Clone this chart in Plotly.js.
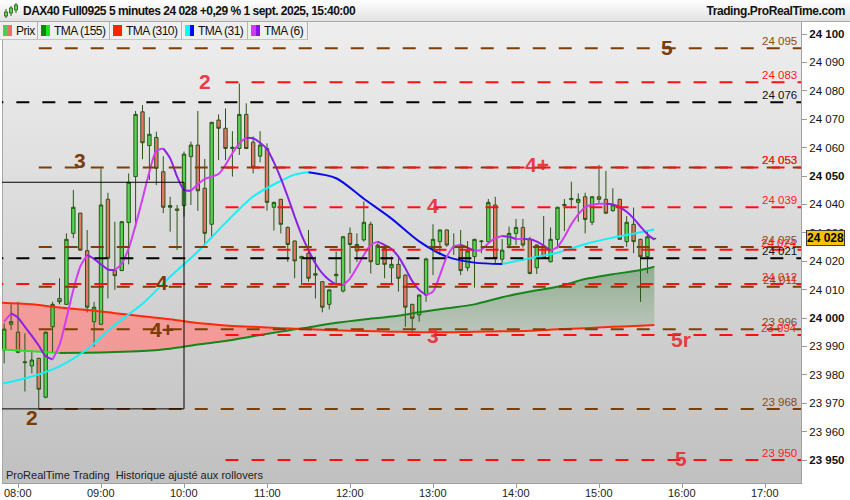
<!DOCTYPE html>
<html lang="fr"><head><meta charset="utf-8">
<script src="https://cdn.plot.ly/plotly-3.0.1.min.js"></script>
<style>
html,body{margin:0;padding:0;background:#fff}
body{width:850px;height:500px;position:relative;overflow:hidden;font-family:"Liberation Sans",Arial,sans-serif}
#bg{position:absolute;left:2px;top:22px;width:799px;height:461px;background:linear-gradient(to bottom,#eeeeee 0%,#c0c0c0 100%);border-left:1px solid #a8a8a8;box-sizing:border-box;z-index:0}
#chart{position:absolute;left:0;top:0;width:850px;height:500px;z-index:1}
#titlebar{position:absolute;left:0;top:0;width:850px;height:21px;background:linear-gradient(#ffffff,#e2e2e2);border-bottom:1px solid #a8a8a8;z-index:3}
#ticon{position:absolute;left:3px;top:3px}
#title{position:absolute;left:23px;top:4px;font-weight:bold;font-size:12px;letter-spacing:-0.5px;color:#111;white-space:nowrap}
#site{position:absolute;right:5px;top:4px;font-weight:bold;font-size:12px;letter-spacing:-0.4px;color:#111;white-space:nowrap}
#legend{position:absolute;left:0;top:22px;height:18px;display:flex;z-index:3}
.item{box-sizing:border-box;height:18px;display:flex;align-items:center;padding:0 0 0 3px;background:#efefef;border-right:1px solid #b4b4b4;border-bottom:1px solid #c4c4c4;font-size:12px;letter-spacing:-0.5px;color:#111;white-space:nowrap}
.ico{width:9px;height:11px;margin-right:4px;display:flex;flex:none}
.ico span{flex:1}
</style></head>
<body>
<div id="bg"></div>
<div id="chart"></div>
<div id="titlebar">
  <svg id="ticon" width="16" height="16" viewBox="0 0 16 16">
    <line x1="3" y1="6" x2="3" y2="15" stroke="#2f5a17"/><rect x="1.5" y="9" width="3" height="4" fill="#55d455" stroke="#2f5a17" stroke-width="0.8"/>
    <line x1="8" y1="3" x2="8" y2="13" stroke="#2f5a17"/><rect x="6.5" y="5" width="3" height="5" fill="#55d455" stroke="#2f5a17" stroke-width="0.8"/>
    <line x1="13" y1="0" x2="13" y2="10" stroke="#2f5a17"/><rect x="11.5" y="2" width="3" height="5" fill="#55d455" stroke="#2f5a17" stroke-width="0.8"/>
  </svg>
  <div id="title">DAX40 Full0925 5 minutes 24 028 +0,29 % 1 sept. 2025, 15:40:00</div>
  <div id="site">Trading.ProRealTime.com</div>
</div>
<div id="legend">
  <div class="item" style="width:38px"><div class="ico"><span style="background:#4ccf4c"></span><span style="background:#e2736b"></span></div>Prix</div>
  <div class="item" style="width:72px"><div class="ico"><span style="background:#0a8a0a"></span><span style="background:#22e022"></span></div>TMA (155)</div>
  <div class="item" style="width:72px"><div class="ico"><span style="background:#ff2200"></span><span style="background:#ff2200"></span></div>TMA (310)</div>
  <div class="item" style="width:66px"><div class="ico"><span style="background:#00ffff"></span><span style="background:#0000ff"></span></div>TMA (31)</div>
  <div class="item" style="width:60px"><div class="ico"><span style="background:#d23cf5"></span><span style="background:#8a10f0"></span></div>TMA (6)</div>
</div>
<script>
// ---------- DATA ----------
// 5-minute candles starting 07:50 (last one 15:40)
const candleFirstMinute = 470; // 07:50
const openP  = [23988.7,23997.8,23995.0,23984.6,23983.1,23985.8,23972.1,23996.9,24006.9,24004.8,
                24029.8,24036.9,24023.7,23998.7,23997.8,24041.8,24016.7,24016.7,24033.6,24049.8,
                24072.6,24060.7,24063.6,24051.5,24039.6,24038.4,24039.6,24056.8,24060.9,24045.7,
                24033.0,24069.7,24066.8,24059.7,24059.7,24071.7,24061.9,24057.0,24059.7,24039.0,
                24041.8,24031.9,24027.1,24021.0,24022.8,24015.6,24012.8,24004.8,24014.9,24009.5,
                24029.8,24023.6,24027.5,24033.0,24018.9,24024.5,24017.7,24018.9,24015.1,24004.8,
                24001.1,24008.1,24024.3,24026.9,24031.0,24024.8,24025.1,24017.7,24021.6,24026.9,
                24026.9,24039.8,24020.7,24025.7,24029.8,24031.9,24027.7,24017.7,24024.8,24019.8,
                24027.7,24039.6,24041.7,24040.7,24042.7,24033.7,24042.7,24041.8,24037.8,24041.8,
                24026.9,24033.0,24027.7,24021.6,24027.9];
const highP  = [23998.1,24004.8,24005.7,23994.6,23988.7,23986.0,23995.2,24005.7,24014.0,24029.8,
                24045.1,24037.1,24031.0,24005.7,24052.7,24044.1,24033.9,24034.2,24050.9,24072.9,
                24075.0,24070.7,24065.6,24057.0,24042.7,24039.8,24058.6,24062.1,24072.9,24056.0,
                24069.1,24071.7,24073.8,24065.8,24082.6,24075.6,24063.9,24065.8,24061.5,24041.0,
                24041.9,24032.2,24027.3,24021.8,24031.0,24021.6,24013.0,24010.1,24023.4,24028.9,
                24031.9,24029.8,24041.0,24033.9,24026.3,24025.1,24021.6,24021.6,24015.4,24005.0,
                24008.3,24021.2,24033.0,24031.2,24031.2,24029.8,24031.0,24027.1,24027.9,24027.3,
                24041.9,24042.7,24027.8,24032.2,24034.9,24034.9,24028.6,24025.9,24035.9,24031.9,
                24039.2,24041.9,24048.0,24043.9,24044.1,24043.0,24053.9,24051.8,24045.7,24042.0,
                24035.9,24038.9,24027.9,24031.0,24028.2];
const lowP   = [23984.0,23995.8,23987.6,23974.1,23980.5,23968.2,23971.7,23987.6,24004.8,24004.6,
                24028.1,24023.7,24002.0,23989.9,23997.5,24006.9,24009.9,24016.5,24018.9,24031.6,
                24055.9,24048.6,24046.8,24036.9,24030.4,24023.9,24035.7,24039.8,24037.7,24025.7,
                24028.6,24055.6,24055.6,24049.8,24057.4,24059.5,24050.9,24054.8,24037.8,24030.8,
                24029.8,24019.8,24014.0,24011.6,24012.8,24006.9,24002.0,24003.0,24012.2,24009.0,
                24015.7,24019.8,24026.9,24015.7,24018.7,24014.0,24012.2,24009.3,23996.9,23994.6,
                23998.7,24005.7,24015.1,24022.2,24025.1,24022.2,24015.1,24016.5,24010.7,24022.8,
                24026.6,24019.3,24018.7,24024.5,24025.7,24024.8,24015.4,24015.5,24020.8,24019.6,
                24024.5,24030.6,24038.6,24033.9,24029.8,24032.7,24040.4,24036.6,24037.4,24027.5,
                24025.1,24022.8,24005.7,24015.7,24027.7];
const closeP = [23996.1,23998.7,23987.9,23984.3,23985.2,23974.9,23995.0,24004.8,24005.7,24027.7,
                24039.0,24023.9,24003.8,24003.8,24039.8,24021.0,24014.9,24033.9,24047.8,24071.7,
                24061.7,24064.7,24052.7,24039.0,24039.0,24037.9,24057.7,24060.9,24044.8,24029.8,
                24068.9,24066.8,24059.7,24060.1,24071.7,24059.7,24053.1,24060.9,24040.7,24040.7,
                24033.0,24025.9,24020.1,24021.7,24014.0,24015.1,24003.8,24009.9,24015.4,24028.6,
                24025.9,24025.9,24033.7,24019.8,24025.7,24018.9,24018.9,24014.0,24003.8,23999.9,
                24008.1,24020.8,24027.7,24031.0,24025.7,24025.0,24016.7,24023.6,24027.7,24027.1,
                24040.7,24021.0,24023.9,24029.8,24031.9,24025.7,24015.7,24025.7,24021.0,24027.7,
                24039.0,24040.0,24042.1,24041.8,24034.7,24042.7,24041.8,24036.9,24039.8,24027.7,
                24033.7,24026.9,24021.6,24028.6,24028.0];

// TMA (6), one reading per candle
const tma6 = [23998.7,24001.6,24000.1,23996.9,23993.7,23990.3,23986.6,23985.4,23990.5,23999.9,
              24009.9,24018.1,24022.2,24020.8,24018.9,24017.1,24016.9,24019.2,24024.5,24032.7,
              24041.9,24051.5,24058.8,24059.7,24056.2,24049.8,24045.1,24044.8,24047.1,24048.9,
              24049.8,24050.7,24053.9,24058.0,24061.5,24063.5,24063.3,24061.7,24059.5,24054.8,
              24049.2,24042.7,24035.7,24029.2,24023.9,24019.2,24015.7,24013.4,24011.9,24011.6,
              24013.9,24017.8,24022.2,24025.7,24026.9,24025.7,24024.3,24021.6,24017.5,24013.0,
              24009.9,24008.1,24009.3,24015.1,24021.6,24025.1,24025.7,24024.8,24023.7,24024.0,
              24026.3,24028.1,24028.9,24028.6,24027.8,24027.8,24027.7,24026.9,24025.5,24023.7,
              24025.1,24028.6,24033.0,24036.5,24039.0,24040.0,24040.2,24040.2,24040.0,24039.0,
              24037.4,24035.1,24032.2,24029.5,24027.6];

// Slower averages, read every 20 minutes
const maTimes = ['07:48','08:10','08:30','08:50','09:10','09:30','09:50','10:10','10:30','10:50','11:10','11:20','11:30',
                 '11:50','12:10','12:30','12:50','13:10','13:30','13:50','14:10','14:30','14:50','15:10','15:30','15:40'];
const tma155 = [23988.9,23988.3,23987.7,23987.8,23988.0,23988.4,23989.2,23990.7,23991.9,23993.6,23995.2,23996.0,23996.7,
                23998.3,23999.5,24000.5,24002.0,24003.4,24004.8,24007.3,24009.3,24011.0,24013.7,24015.4,24016.9,24018.1];
const tma310 = [24005.4,24004.8,24003.7,24002.8,24001.7,24000.6,23999.6,23998.2,23997.4,23996.9,23996.4,23996.2,23996.0,
                23995.7,23995.4,23995.2,23995.0,23995.0,23995.2,23995.3,23995.5,23996.0,23996.4,23996.9,23997.3,23997.5];
const tma31  = [23976.8,23979.4,23983.0,23989.0,23997.5,24005.0,24014.5,24023.4,24033.5,24042.8,24048.3,24050.5,24051.3,
                24049.2,24042.0,24035.0,24027.0,24021.6,24019.5,24019.0,24021.0,24023.0,24026.0,24028.3,24030.2,24031.2];
const crossIndex = 11; // 11:20, where TMA155 passes above TMA310

// Horizontal levels
const levelPrices = [24095,24083,24076,24053,24053,24039,24025,24024,24021,24012,24011,23996,23994,23968,23950];
const levelKinds  = ['b','r','k','b','r','r','b','r','k','r','b','b','r','b','r'];
const levelStarts = ['08:15','10:30','07:40','08:15','10:30','10:30','08:15','10:30','07:40','07:40','08:15','08:15','10:30','08:15','10:30'];

// Level markers
const markerTexts  = ['5','2','3','4+','4','4','4+','3','5r','2','5'];
const markerKinds  = ['b','r','b','r','r','b','b','r','r','b','r'];
const markerTimes  = ['15:49','10:15','08:45','14:15','13:00','09:44','09:44','13:00','15:59','08:10','15:59'];
const markerPrices = [24095.2,24083.3,24055.4,24054.2,24039.5,24012.6,23996.1,23993.7,23992.5,23965.1,23950.6];

// Box
const boxTimes  = ['07:40','10:00'];
const boxPrices = [23968,24047.8];

// Axis ticks
const yTickVals = [23950,23960,23970,23980,23990,24000,24010,24020,24030,24040,24050,24060,24070,24080,24090,24100];
const xTickTimes = ['08:00','09:00','10:00','11:00','12:00','13:00','14:00','15:00','16:00','17:00'];
const lastPrice = 24028;

// ---------- BUILD ----------
const DAY = '2025-09-01 ';
const hm = m => DAY + String(Math.floor(m/60)).padStart(2,'0') + ':' + String(m%60).padStart(2,'0');
const T = s => DAY + s;
const fmt = v => String(v).replace(/\B(?=(\d{3})+(?!\d))/g, ' ');
const candleTimes = openP.map((_, i) => hm(candleFirstMinute + 5*i));
const maX = maTimes.map(T);

const COL = {b:'#7e3f06', r:'#ff1010', k:'#000000'};
const LABCOL = {b:'#8b4a16', r:'#ff1a1a', k:'#111111'};
const MARKCOL = {b:'#7a3c05', r:'rgba(232,44,52,0.92)'};

function dirSegments(xs, ys, upColor, downColor, width, yaxis){
  const segs=[]; let cur=null;
  for(let i=0;i<xs.length-1;i++){
    const up = ys[i+1] >= ys[i];
    if(!cur || cur.up!==up){ cur={up, x:[xs[i]], y:[ys[i]]}; segs.push(cur); }
    cur.x.push(xs[i+1]); cur.y.push(ys[i+1]);
  }
  return segs.map(s=>({type:'scatter',mode:'lines',x:s.x,y:s.y,yaxis,
    line:{color:s.up?upColor:downColor,width,shape:'spline',smoothing:0.8},hoverinfo:'skip',showlegend:false}));
}

const traces = [];
// fills (bottom layer)
const seg1 = [0, crossIndex+1], seg2 = [crossIndex, maX.length];
traces.push({type:'scatter',mode:'lines',x:maX.slice(...seg1),y:tma155.slice(...seg1),line:{width:0},hoverinfo:'skip',showlegend:false});
traces.push({type:'scatter',mode:'lines',x:maX.slice(...seg1),y:tma310.slice(...seg1),line:{width:0},fill:'tonexty',
  fillcolor:'rgba(255,135,130,0.72)',hoverinfo:'skip',showlegend:false});
traces.push({type:'scatter',mode:'lines',x:maX.slice(...seg2),y:tma310.slice(...seg2),line:{width:0},hoverinfo:'skip',showlegend:false});
traces.push({type:'scatter',mode:'lines',x:maX.slice(...seg2),y:tma155.slice(...seg2),line:{width:0},fill:'tonexty',
  fillcolor:'rgba(40,120,40,0.3)',
  fillgradient:{type:'vertical',start:23995,stop:24018,colorscale:[[0,'rgba(40,120,40,0.12)'],[1,'rgba(30,110,30,0.38)']]},
  hoverinfo:'skip',showlegend:false});

// candles
traces.push({type:'candlestick',x:candleTimes,open:openP,high:highP,low:lowP,close:closeP,yaxis:'y2',
  increasing:{line:{color:'#2b5516',width:1},fillcolor:'#52d552'},
  decreasing:{line:{color:'#2b5516',width:1},fillcolor:'#e4766c'},
  whiskerwidth:0,hoverinfo:'skip',showlegend:false});

// averages on top
traces.push(...dirSegments(maX, tma155, '#16861a', '#2ee02e', 2, 'y3'));
traces.push({type:'scatter',mode:'lines',x:maX,y:tma310,yaxis:'y3',line:{color:'#ff2a0a',width:2,shape:'spline'},hoverinfo:'skip',showlegend:false});
traces.push(...dirSegments(maX, tma31, '#14f0f8', '#0b0bea', 2, 'y3'));
traces.push(...dirSegments(candleTimes, tma6, '#d23cf2', '#8a22e6', 2, 'y3'));

const yRange = [23941.9, 24104.23];
const xRange = ['2025-09-01 07:48:26','2025-09-01 17:26:01'];

const shapes = levelPrices.map((p,i)=>({type:'line',xref:'x',yref:'y',x0:T(levelStarts[i]),x1:T('18:00'),y0:p,y1:p,
  line:{color:COL[levelKinds[i]],width:2,dash:'13px,13px'},layer:'above'}));
shapes.push({type:'rect',xref:'x',yref:'y',x0:T(boxTimes[0]),x1:T(boxTimes[1]),y0:boxPrices[0],y1:boxPrices[1],
  line:{color:'#000',width:1},fillcolor:'rgba(0,0,0,0)',layer:'above'});

const annotations = [];
levelPrices.forEach((p,i)=>annotations.push({xref:'paper',yref:'y',x:1,y:p,xanchor:'right',yanchor:'bottom',xshift:-2,yshift:-1,
  text:fmt(p),showarrow:false,font:{size:11.5,color:LABCOL[levelKinds[i]],family:'Liberation Sans, Arial, sans-serif'}}));
markerTexts.forEach((t,i)=>annotations.push({xref:'x',yref:'y',x:T(markerTimes[i]),y:markerPrices[i],xanchor:'center',yanchor:'middle',
  text:'<b>'+t+'</b>',showarrow:false,font:{size:21,color:MARKCOL[markerKinds[i]],family:'Liberation Sans, Arial, sans-serif'}}));
annotations.push({xref:'paper',yref:'y',x:1,y:lastPrice,xanchor:'left',yanchor:'middle',xshift:5,text:'<b>'+fmt(lastPrice)+'</b>',
  showarrow:false,bgcolor:'#f5c400',bordercolor:'#3a3a3a',borderwidth:1,borderpad:0,font:{size:12,color:'#000'}});
annotations.push({xref:'paper',yref:'paper',x:0,y:0,xanchor:'left',yanchor:'bottom',xshift:2,yshift:0,
  text:'ProRealTime Trading  Historique ajusté aux rollovers',showarrow:false,font:{size:11,color:'#222'}});
// x-axis time labels
xTickTimes.forEach(t=>annotations.push({xref:'x',yref:'paper',x:T(t),y:0,yanchor:'top',xanchor:'center',yshift:-2,
  text:t,showarrow:false,font:{size:11,color:'#222'}}));

const yTickText = yTickVals.map(v => v % 50 === 0 ? '<b>'+fmt(v)+'</b>' : fmt(v));

const layout = {
  width:850,height:500,margin:{l:2,r:49,t:22,b:17,pad:0},
  paper_bgcolor:'rgba(0,0,0,0)',plot_bgcolor:'rgba(0,0,0,0)',
  font:{family:'Liberation Sans, Arial, sans-serif',color:'#111'},
  showlegend:false,hovermode:false,dragmode:false,
  xaxis:{type:'date',range:xRange,tickvals:xTickTimes.map(T),showticklabels:false,ticks:'outside',ticklen:4,tickcolor:'#999',
    showgrid:false,zeroline:false,showline:true,linecolor:'#a0a0a0',rangeslider:{visible:false},fixedrange:true},
  yaxis:{side:'right',range:yRange,tickvals:yTickVals,ticktext:yTickText,ticks:'outside',ticklen:5,tickcolor:'#999',
    showgrid:false,zeroline:false,showline:true,linecolor:'#a0a0a0',tickfont:{size:11.5,color:'#111'},fixedrange:true},
  yaxis2:{overlaying:'y',range:yRange,visible:false,fixedrange:true},
  yaxis3:{overlaying:'y',range:yRange,visible:false,fixedrange:true},
  shapes, annotations
};
Plotly.newPlot('chart', traces, layout, {displayModeBar:false,staticPlot:true});
</script>
</body></html>
